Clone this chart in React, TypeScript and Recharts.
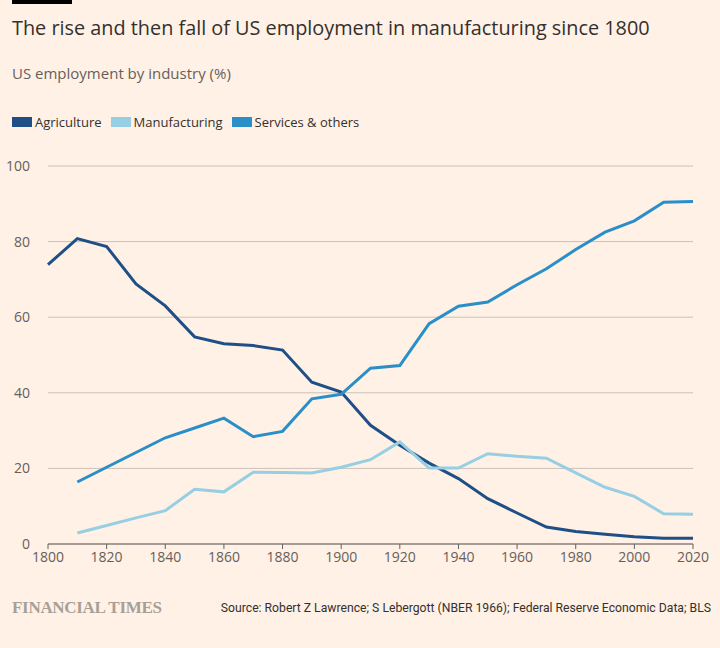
import React from "react";
import { CartesianGrid, Line, LineChart, XAxis, YAxis } from "recharts";

const YEARS = [1800, 1810, 1820, 1830, 1840, 1850, 1860, 1870, 1880, 1890, 1900, 1910, 1920, 1930, 1940, 1950, 1960, 1970, 1980, 1990, 2000, 2010, 2020];
const AGRICULTURE = [73.9, 80.8, 78.7, 68.8, 63.0, 54.8, 53.0, 52.5, 51.3, 42.8, 40.2, 31.4, 26.1, 21.4, 17.3, 12.0, 8.2, 4.5, 3.3, 2.6, 1.9, 1.5, 1.5];
const MANUFACTURING = [null, 2.9, 4.9, 6.9, 8.8, 14.5, 13.8, 19.0, 18.9, 18.8, 20.3, 22.3, 27.0, 20.1, 20.1, 23.9, 23.2, 22.7, 18.8, 15.0, 12.6, 8.0, 7.9];
const SERVICES = [null, 16.4, 20.3, 24.2, 28.1, 30.7, 33.3, 28.4, 29.8, 38.4, 39.6, 46.5, 47.2, 58.3, 62.9, 64.0, 68.6, 72.8, 77.9, 82.5, 85.5, 90.4, 90.6];

const X_TICKS = [1800, 1820, 1840, 1860, 1880, 1900, 1920, 1940, 1960, 1980, 2000, 2020];
const Y_TICKS = [0, 20, 40, 60, 80, 100];

const SERIES = [
  { key: "agri", name: "Agriculture", color: "#1e4f86" },
  { key: "manu", name: "Manufacturing", color: "#96cfe3" },
  { key: "serv", name: "Services & others", color: "#2a8fc8" },
];

const data = YEARS.map((year, i) => ({
  year,
  agri: AGRICULTURE[i],
  manu: MANUFACTURING[i],
  serv: SERVICES[i],
}));

const BG = "#fff1e5";
const FONT = "'Open Sans', 'Noto Sans', sans-serif";

export default function App() {
  return (
    <div style={{ position: "absolute", left: 0, top: 0, width: 720, height: 648, background: BG, fontFamily: FONT, overflow: "hidden" }}>
      {/* FT top rule */}
      <div style={{ position: "absolute", left: 12, top: 0, width: 60, height: 4, background: "#000" }} />
      <div style={{ position: "absolute", left: 12, top: 14, fontSize: 19.85, color: "#33302e", whiteSpace: "nowrap" }}>
        The rise and then fall of US employment in manufacturing since 1800
      </div>
      <div style={{ position: "absolute", left: 12, top: 63, fontSize: 15, color: "#66605c", whiteSpace: "nowrap" }}>
        US employment by industry (%)
      </div>
      <div style={{ position: "absolute", left: 12, top: 113, display: "flex", alignItems: "center", fontSize: 13, color: "#33302e" }}>
        {SERIES.map((s) => (
          <div key={s.key} style={{ display: "flex", alignItems: "center", marginRight: 9 }}>
            <span style={{ display: "inline-block", width: 20, height: 10, background: s.color, marginRight: 3 }} />
            <span>{s.name}</span>
          </div>
        ))}
      </div>

      <div style={{ position: "absolute", left: 0, top: 0 }}>
        <LineChart width={720} height={580} data={data} margin={{ top: 166, right: 27, left: 0, bottom: 6 }}>
          <CartesianGrid vertical={false} stroke="#ccc1b7" strokeWidth={1} />
          <XAxis
            dataKey="year"
            type="number"
            domain={[1800, 2020]}
            ticks={X_TICKS}
            interval={0}
            height={30}
            axisLine={{ stroke: "#66605c", strokeWidth: 1 }}
            tickLine={{ stroke: "#66605c" }}
            tickSize={5}
            tickMargin={3}
            tick={{ fontSize: 14, fill: "#66605c", fontFamily: FONT }}
          />
          <YAxis
            type="number"
            domain={[0, 100]}
            ticks={Y_TICKS}
            width={48}
            axisLine={false}
            tickLine={false}
            tickMargin={12}
            tick={{ fontSize: 14, fill: "#66605c", fontFamily: FONT }}
          />
          {SERIES.map((s) => (
            <Line
              key={s.key}
              dataKey={s.key}
              name={s.name}
              stroke={s.color}
              strokeWidth={3}
              dot={false}
              type="linear"
              isAnimationActive={false}
            />
          ))}
        </LineChart>
      </div>

      <div style={{ position: "absolute", left: 12, top: 598, fontFamily: "'Liberation Serif', 'DejaVu Serif', serif", fontWeight: "bold", fontSize: 17, color: "#a79f97", whiteSpace: "nowrap", letterSpacing: -0.3 }}>
        FINANCIAL TIMES
      </div>
      <div style={{ position: "absolute", right: 9, top: 601, fontSize: 12.2, color: "#33302e", whiteSpace: "nowrap", fontFamily: "'Liberation Sans Narrow', 'Roboto', sans-serif" }}>
        Source: Robert Z Lawrence; S Lebergott (NBER 1966); Federal Reserve Economic Data; BLS
      </div>
    </div>
  );
}
